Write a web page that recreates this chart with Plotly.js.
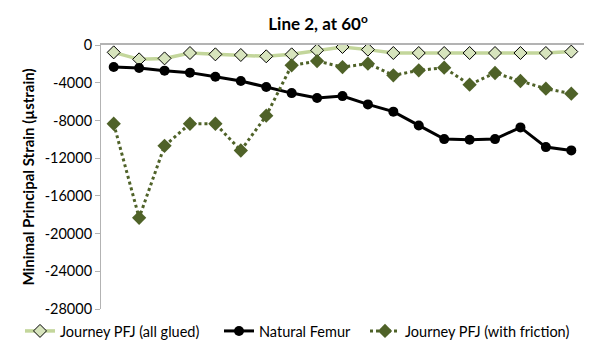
<!DOCTYPE html>
<html>
<head>
<meta charset="utf-8">
<script src="https://cdn.plot.ly/plotly-3.0.1.min.js"></script>
<style>html,body{margin:0;padding:0;background:#fff;}#chart{width:590px;height:345px;}</style>
</head>
<body>
<div id="chart"></div>
<script>
const categories = [1,2,3,4,5,6,7,8,9,10,11,12,13,14,15,16,17,18,19];
const gluedValues = [-780,-1520,-1420,-850,-990,-1060,-1200,-990,-560,-210,-490,-850,-850,-850,-850,-850,-850,-850,-700];
const naturalValues = [-2340,-2440,-2720,-2930,-3360,-3820,-4460,-5100,-5630,-5420,-6300,-7070,-8530,-9980,-10050,-9980,-8740,-10830,-11180];
const frictionValues = [-8350,-18330,-10690,-8350,-8350,-11190,-7500,-2160,-1700,-2340,-1980,-3220,-2690,-2410,-4210,-2970,-3820,-4630,-5160];
const yTickValues = [0,-4000,-8000,-12000,-16000,-20000,-24000,-28000];
const seriesNames = ['Journey PFJ (all glued)','Natural Femur','Journey PFJ (with friction)'];

const FONT = 'Lato, "Open Sans", sans-serif';
const traces = [
  {x: categories, y: gluedValues, name: seriesNames[0], type: 'scatter', mode: 'lines+markers', legend: 'legend',
   line: {color: '#c3d69b', width: 3.5},
   marker: {symbol: 'diamond', size: 10, color: '#d7e4bd', line: {color: '#000', width: 1}}},
  {x: categories, y: naturalValues, name: seriesNames[1], type: 'scatter', mode: 'lines+markers', legend: 'legend2',
   line: {color: '#000', width: 3},
   marker: {symbol: 'circle', size: 10, color: '#000'}},
  {x: categories, y: frictionValues, name: seriesNames[2], type: 'scatter', mode: 'lines+markers', legend: 'legend3',
   line: {color: '#4f6228', width: 3, dash: 'dot'},
   marker: {symbol: 'diamond', size: 11, color: '#4f6228'}}
];
function legendAt(px) {
  return {orientation: 'h', xref: 'container', yref: 'container', x: px/590, xanchor: 'left', y: 1 - 331/345, yanchor: 'middle',
          font: {family: FONT, size: 14.5, color: '#000'}, itemwidth: 30, bgcolor: 'rgba(0,0,0,0)'};
}
const layout = {
  width: 590, height: 345,
  margin: {l: 101, r: 6, t: 45, b: 36},
  paper_bgcolor: '#fff', plot_bgcolor: '#fff',
  font: {family: FONT, size: 14, color: '#000'},
  title: {text: '<b>Line 2, at 60<sup>o</sup></b>', x: 318/590, xanchor: 'center', y: 1 - 24/345, yanchor: 'middle',
          font: {family: FONT, size: 17, color: '#000'}},
  xaxis: {range: [0.5, 19.5], showticklabels: false, ticks: '', showgrid: false, zeroline: false,
          showline: true, linecolor: '#b3b3b3', linewidth: 2, side: 'top', fixedrange: true},
  yaxis: {range: [-28000, 0], tickvals: yTickValues, ticktext: yTickValues.map(String), showgrid: false, zeroline: false,
          showline: true, linecolor: '#b3b3b3', linewidth: 1, ticks: 'outside', ticklen: 5, tickcolor: '#b3b3b3',
          tickfont: {family: FONT, size: 14.5, color: '#000'},
          title: {text: '<b>Minimal Principal Strain (µstrain)</b>', font: {family: FONT, size: 15, color: '#000'}, standoff: 6}},
  showlegend: true,
  legend: legendAt(20),
  legend2: legendAt(219),
  legend3: legendAt(365)
};
Plotly.newPlot('chart', traces, layout, {displayModeBar: false, staticPlot: true});
</script>
</body>
</html>
